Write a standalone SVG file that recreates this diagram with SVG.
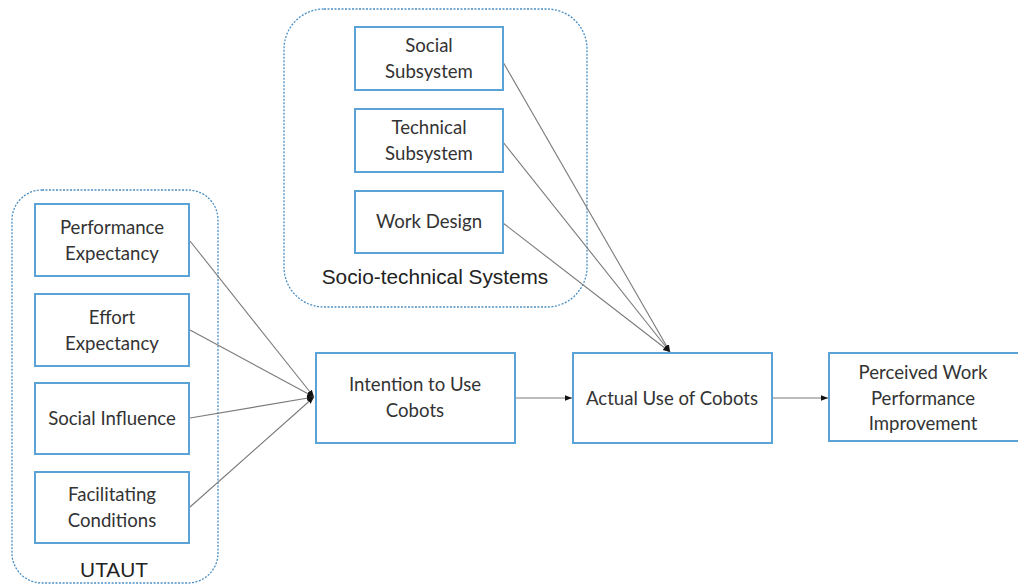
<svg xmlns="http://www.w3.org/2000/svg" width="1018" height="587" viewBox="0 0 1018 587">
<defs>
<style>
.grp{fill:none;stroke:#4a8fc4;stroke-width:1.3;stroke-dasharray:2 1.5}
.box{fill:#fff;stroke:#5ba3d6;stroke-width:2}
.t{font-family:Lato,"Open Sans","Liberation Sans",sans-serif;font-size:18.6px;fill:#333;text-anchor:middle}
.g{font-family:"Liberation Sans",Arial,sans-serif;font-size:20.8px;fill:#222;text-anchor:middle}
.c{stroke:#7a7a7a;stroke-width:1.1;fill:none;marker-end:url(#ah)}
</style>
<marker id="ah" viewBox="0 0 10 10" refX="10" refY="5" markerWidth="7" markerHeight="7" markerUnits="userSpaceOnUse" orient="auto">
<path d="M0,1 L10,5 L0,9 z" fill="#111"/>
</marker>
</defs>
<rect width="1018" height="587" fill="#fff"/>
<g id="utaut-group">
<rect class="grp" x="12" y="190" width="206" height="393" rx="30"/>
<text class="g" x="114" y="577">UTAUT</text>
</g>
<g id="sts-group">
<rect class="grp" x="284" y="9" width="303" height="298" rx="40"/>
<text class="g" x="435" y="284">Socio-technical Systems</text>
</g>
<g id="connectors">
<line class="c" x1="190" y1="241" x2="314" y2="397"/>
<line class="c" x1="190" y1="330" x2="314" y2="397"/>
<line class="c" x1="190" y1="418" x2="314" y2="397"/>
<line class="c" x1="190" y1="507" x2="314" y2="397"/>
<line class="c" x1="503" y1="62" x2="670" y2="352"/>
<line class="c" x1="503" y1="142" x2="670" y2="352"/>
<line class="c" x1="503" y1="223" x2="670" y2="352"/>
<line class="c" x1="515" y1="398" x2="572" y2="398"/>
<line class="c" x1="772" y1="398" x2="828" y2="398"/>
</g>
<g id="performance-expectancy">
<rect class="box" x="35" y="204" width="154" height="72"/>
<text class="t" x="112" y="234">Performance</text>
<text class="t" x="112" y="260">Expectancy</text>
</g>
<g id="effort-expectancy">
<rect class="box" x="35" y="294" width="154" height="72"/>
<text class="t" x="112" y="324">Effort</text>
<text class="t" x="112" y="350">Expectancy</text>
</g>
<g id="social-influence">
<rect class="box" x="35" y="383" width="154" height="71"/>
<text class="t" x="112" y="425">Social Influence</text>
</g>
<g id="facilitating-conditions">
<rect class="box" x="35" y="472" width="154" height="71"/>
<text class="t" x="112" y="501">Facilitating</text>
<text class="t" x="112" y="527">Conditions</text>
</g>
<g id="social-subsystem">
<rect class="box" x="355" y="27" width="148" height="63"/>
<text class="t" x="429" y="52">Social</text>
<text class="t" x="429" y="78">Subsystem</text>
</g>
<g id="technical-subsystem">
<rect class="box" x="355" y="109" width="148" height="63"/>
<text class="t" x="429" y="134">Technical</text>
<text class="t" x="429" y="160">Subsystem</text>
</g>
<g id="work-design">
<rect class="box" x="355" y="191" width="148" height="62"/>
<text class="t" x="429" y="228">Work Design</text>
</g>
<g id="intention-to-use">
<rect class="box" x="316" y="353" width="199" height="90"/>
<text class="t" x="415" y="391">Intention to Use</text>
<text class="t" x="415" y="417">Cobots</text>
</g>
<g id="actual-use">
<rect class="box" x="573" y="353" width="199" height="90"/>
<text class="t" x="672" y="405">Actual Use of Cobots</text>
</g>
<g id="perceived-improvement">
<rect class="box" x="829" y="353" width="195" height="88"/>
<text class="t" x="923" y="379">Perceived Work</text>
<text class="t" x="923" y="405">Performance</text>
<text class="t" x="923" y="430">Improvement</text>
</g>
</svg>
